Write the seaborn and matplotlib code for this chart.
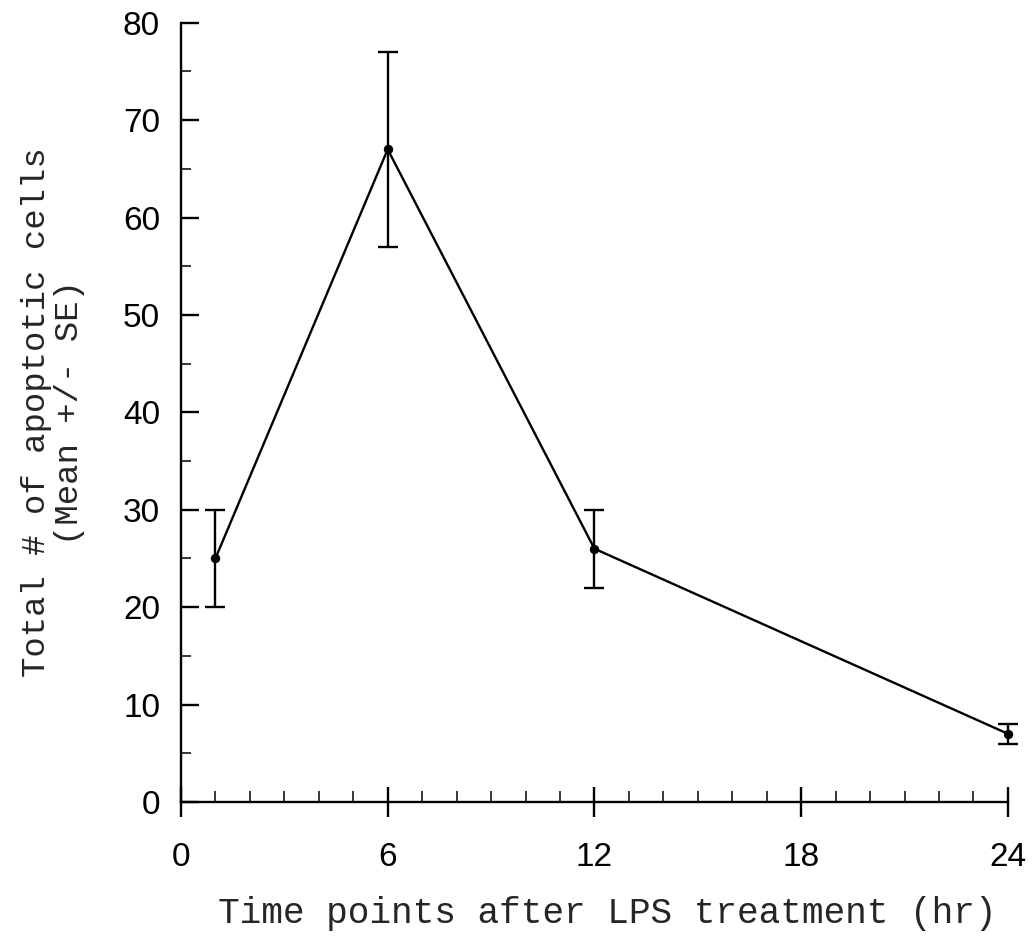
import matplotlib
matplotlib.use("Agg")
import matplotlib.pyplot as plt
from matplotlib.ticker import MultipleLocator
import seaborn as sns

# Values
time_hr = [1, 6, 12, 24]
mean_cells = [25, 67, 26, 7]
se_cells = [5, 10, 4, 1]
x_ticks = [0, 6, 12, 18, 24]
y_ticks = [0, 10, 20, 30, 40, 50, 60, 70, 80]

sns.set_style("ticks")
plt.rcParams['font.family'] = ['Liberation Sans', 'DejaVu Sans']
mono = ['Liberation Mono', 'DejaVu Sans Mono']

fig = plt.figure(figsize=(10.34, 9.51), dpi=100)
ax = fig.add_axes([0.1750, 0.1567, 0.7998, 0.8194])

sns.lineplot(x=time_hr, y=mean_cells, ax=ax, color='black', linewidth=1.7,
             marker='o', markersize=6, markeredgecolor='black', clip_on=False)
ax.errorbar(time_hr, mean_cells, yerr=se_cells, fmt='none', ecolor='black',
            elinewidth=1.7, capsize=7, capthick=1.7, clip_on=False)

ax.set_xlim(0, 24)
ax.set_ylim(0, 80)
ax.set_xticks(x_ticks)
ax.set_yticks(y_ticks)
ax.xaxis.set_minor_locator(MultipleLocator(1))
ax.yaxis.set_minor_locator(MultipleLocator(5))

sns.despine(ax=ax)
for s in ['left', 'bottom']:
    ax.spines[s].set_linewidth(1.7)
    ax.spines[s].set_color('black')

ax.tick_params(axis='x', which='major', direction='inout', length=22, width=1.7,
               pad=18, labelsize=24, colors='black')
ax.tick_params(axis='x', which='minor', direction='in', length=8, width=1.3)
ax.tick_params(axis='y', which='major', direction='in', length=13, width=1.7,
               pad=15, labelsize=24, colors='black')
ax.tick_params(axis='y', which='minor', direction='in', length=7, width=1.3)

ax.set_xlabel("Time points after LPS treatment (hr)", family=mono, fontsize=26,
              va='center')
ax.xaxis.set_label_coords(0.515, -0.1425)
ax.set_ylabel("Total # of apoptotic cells\n(Mean +/- SE)", family=mono,
              fontsize=24.5, va='center', ha='center', linespacing=1.1)
ax.yaxis.set_label_coords(-0.155, 0.5)

fig.savefig("out.png", dpi=100, facecolor='white')
plt.close(fig)
